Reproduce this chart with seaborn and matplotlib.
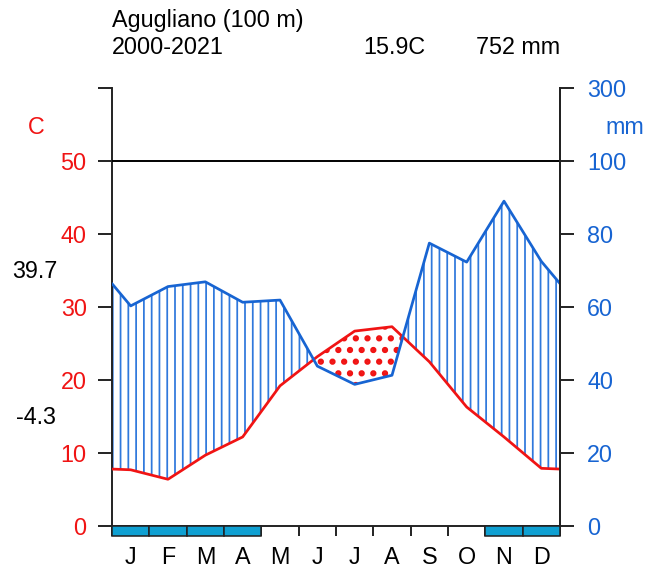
import numpy as np
import pandas as pd
import seaborn as sns
import matplotlib.pyplot as plt
from matplotlib.patches import Rectangle

# monthly climate normals
months = ["J", "F", "M", "A", "M", "J", "J", "A", "S", "O", "N", "D"]
temp = [7.7, 6.4, 9.7, 12.2, 19.2, 23.2, 26.7, 27.3, 22.5, 16.3, 12.2, 7.9]
prec = [60.3, 65.6, 66.9, 61.3, 61.9, 43.8, 38.8, 41.3, 77.5, 72.3, 89.0, 72.5]
frost = [1, 1, 1, 1, 0, 0, 0, 0, 0, 0, 1, 1]

station = "Agugliano (100 m)"
period = "2000-2021"
mean_temp = "15.9C"
total_prec = "752 mm"
abs_max = "39.7"
abs_min = "-4.3"

temp_ticks = [0, 10, 20, 30, 40, 50, 60]
temp_labels = ["0", "10", "20", "30", "40", "50", ""]
prec_labels = ["0", "20", "40", "60", "80", "100", "300"]

RED = "#f01414"
BLUE = "#1764d2"
HATCH_BLUE = "#2f78dc"
FROST = "#0fa0d2"
FS = 12


def scale_prec(p):
    # walter-lieth: 20 mm = 10 C up to 100 mm, compressed above
    p = np.asarray(p, dtype=float)
    return np.where(p <= 100, p / 2, 50 + (p - 100) / 20)


sns.set_theme(style="white")
plt.rcParams["font.family"] = ["Liberation Sans", "DejaVu Sans"]
plt.rcParams["text.color"] = "black"
plt.rcParams["xtick.labelcolor"] = "black"

# diagram is closed at both ends with the dec/jan mean
x = np.concatenate([[0], np.arange(12) + 0.5, [12]])
t_edge = (temp[0] + temp[-1]) / 2
p_edge = (prec[0] + prec[-1]) / 2
df = pd.DataFrame({
    "x": x,
    "t": [t_edge] + temp + [t_edge],
    "p": scale_prec([p_edge] + prec + [p_edge]),
})

fig = plt.figure(figsize=(645 / 140, 575 / 140), dpi=140)
ax = fig.add_axes([112 / 645, 49 / 575, 448 / 645, 438 / 575])

with plt.rc_context({"hatch.color": HATCH_BLUE, "hatch.linewidth": 0.9}):
    ax.fill_between(df["x"], df["t"], df["p"], where=df["p"] >= df["t"],
                    interpolate=True, facecolor="none", edgecolor=HATCH_BLUE,
                    hatch="|||", linewidth=0)
with plt.rc_context({"hatch.color": RED, "hatch.linewidth": 2.0}):
    ax.fill_between(df["x"], df["t"], df["p"], where=df["t"] >= df["p"],
                    interpolate=True, facecolor="none", edgecolor=RED,
                    hatch="..", linewidth=0)

sns.lineplot(data=df, x="x", y="t", color=RED, lw=1.4, ax=ax, zorder=4)
sns.lineplot(data=df, x="x", y="p", color=BLUE, lw=1.4, ax=ax, zorder=4)
ax.axhline(50, color="black", lw=1.0, zorder=3)

ax.set_xlim(0, 12)
ax.set_ylim(0, 60)
ax.set_xlabel("")
ax.set_ylabel("")

for s in ["left", "right", "bottom"]:
    ax.spines[s].set_color("#222222")
    ax.spines[s].set_linewidth(1.0)
ax.spines["top"].set_visible(False)

ax.set_yticks(temp_ticks)
ax.set_yticklabels(temp_labels, color=RED, fontsize=FS)
ax.tick_params(axis="y", length=7, width=1, color="#222222", pad=6, left=True)

ax.set_xticks(np.arange(13))
ax.set_xticklabels([])
ax.set_xticks(np.arange(12) + 0.5, minor=True)
ax.set_xticklabels(months, minor=True, fontsize=FS, color="black")
ax.tick_params(axis="x", which="major", length=5.2, width=1, color="#222222", bottom=True)
ax.tick_params(axis="x", which="minor", length=0, pad=10.5)

# probable frost months
for i, f in enumerate(frost):
    if f:
        ax.add_patch(Rectangle((i, -1.4), 1, 1.4, facecolor=FROST,
                               edgecolor="#222222", lw=0.8,
                               clip_on=False, zorder=5))

ax2 = ax.twinx()
ax2.set_ylim(0, 60)
ax2.set_yticks(temp_ticks)
ax2.set_yticklabels(prec_labels, color=BLUE, fontsize=FS)
ax2.tick_params(axis="y", length=7, width=1, color="#222222", pad=7, right=True)
ax2.grid(False)
for s in ["left", "top", "bottom"]:
    ax2.spines[s].set_visible(False)
ax2.spines["right"].set_color("#222222")
ax2.spines["right"].set_linewidth(1.0)

fig.text(36 / 645, 1 - 127 / 575, "C", color=RED, fontsize=FS, ha="center", va="center")
fig.text(625 / 645, 1 - 128 / 575, "mm", color=BLUE, fontsize=FS, ha="center", va="center")

fig.text(112 / 645, 1 - 20 / 575, station, fontsize=FS, ha="left", va="center")
fig.text(112 / 645, 1 - 48 / 575, period, fontsize=FS, ha="left", va="center")
fig.text(425 / 645, 1 - 48 / 575, mean_temp, fontsize=FS, ha="right", va="center")
fig.text(560 / 645, 1 - 48 / 575, total_prec, fontsize=FS, ha="right", va="center")
fig.text(57 / 645, 1 - 272 / 575, abs_max, fontsize=FS, ha="right", va="center")
fig.text(56 / 645, 1 - 418 / 575, abs_min, fontsize=FS, ha="right", va="center")

fig.savefig("out.png", dpi=140)
